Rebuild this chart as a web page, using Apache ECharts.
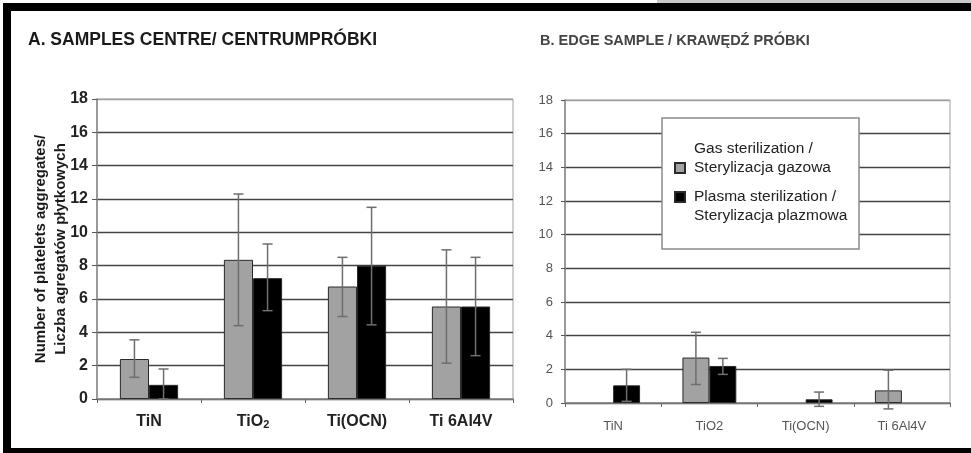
<!DOCTYPE html>
<html>
<head>
<meta charset="utf-8">
<script src="https://cdn.jsdelivr.net/npm/echarts@6/dist/echarts.min.js"></script>
<style>html,body{margin:0;padding:0;background:#fff;}#c{width:971px;height:453px;}</style>
</head>
<body>
<div id="c"></div>
<script>
// ---- data ----
var categories = ['TiN', 'TiO2', 'Ti(OCN)', 'Ti 6Al4V'];
var yTicks = [0, 2, 4, 6, 8, 10, 12, 14, 16, 18];
var seriesNames = ['Gas sterilization /\nSterylizacja gazowa', 'Plasma sterilization /\nSterylizacja plazmowa'];

// A. samples centre
var gasA = [2.4, 8.35, 6.75, 5.55];
var gasAHigh = [3.55, 12.3, 8.5, 8.95];
var gasALow = [1.3, 4.4, 4.95, 2.15];
var plasmaA = [0.85, 7.25, 8.0, 5.55];
var plasmaAHigh = [1.8, 9.3, 11.5, 8.5];
var plasmaALow = [0, 5.3, 4.45, 2.6];

// B. edge sample
var gasB = [null, 2.7, null, 0.75];
var gasBHigh = [null, 4.2, null, 1.95];
var gasBLow = [null, 1.1, null, -0.35];
var plasmaB = [1.05, 2.2, 0.22, null];
var plasmaBHigh = [2.0, 2.65, 0.65, null];
var plasmaBLow = [0.1, 1.7, -0.2, null];

function errData(low, high) {
  var out = [];
  for (var i = 0; i < low.length; i++) {
    if (low[i] !== null && high[i] !== null) out.push([i, low[i], high[i]]);
  }
  return out;
}

var GAP = 0.44;
function makeErr(side) {
  return function (params, api) {
    var cat = api.value(0);
    var lo = api.coord([cat, api.value(1)]);
    var hi = api.coord([cat, api.value(2)]);
    var band = api.size([1, 0])[0];
    var bw = band * (1 - GAP) / 2;
    var x = lo[0] + side * bw / 2;
    var cap = 5;
    var st = { stroke: '#6e6e6e', lineWidth: 1.5 };
    return {
      type: 'group',
      children: [
        { type: 'line', shape: { x1: x, y1: lo[1], x2: x, y2: hi[1] }, style: st },
        { type: 'line', shape: { x1: x - cap, y1: hi[1], x2: x + cap, y2: hi[1] }, style: st },
        { type: 'line', shape: { x1: x - cap, y1: lo[1], x2: x + cap, y2: lo[1] }, style: st }
      ]
    };
  };
}

var gridLineColors = yTicks.map(function (v, i) { return i === yTicks.length - 1 ? '#a0a0a0' : '#444'; });

var chart = echarts.init(document.getElementById('c'), null, { renderer: 'canvas' });

var gasStyle = { color: '#a2a2a2', borderColor: '#2a2a2a', borderWidth: 1 };
var plasmaStyle = { color: '#000000', borderColor: '#2a2a2a', borderWidth: 1 };

var option = {
  animation: false,
  backgroundColor: '#ffffff',
  title: [
    { text: 'A. SAMPLES CENTRE/ CENTRUMPRÓBKI', left: 28, top: 31, padding: 0,
      textStyle: { fontFamily: 'Liberation Sans, Arial', fontSize: 17.5, fontWeight: 'bold', color: '#1a1a1a' } },
    { text: 'B. EDGE SAMPLE / KRAWĘDŹ PRÓBKI', left: 540, top: 33, padding: 0,
      textStyle: { fontFamily: 'Liberation Sans, Arial', fontSize: 14.5, fontWeight: 'bold', color: '#444' } }
  ],
  legend: [
    { data: [seriesNames[0]], orient: 'vertical', left: 674, top: 139.5, padding: 0,
      itemWidth: 10, itemHeight: 10, icon: 'rect', z: 6,
      formatter: function (n) { return n + '\n '; },
      textStyle: { fontFamily: 'Liberation Sans, Arial', fontSize: 15.5, color: '#222', lineHeight: 19, padding: [0, 0, 0, 4] } },
    { data: [seriesNames[1]], orient: 'vertical', left: 674, top: 168.5, padding: 0,
      itemWidth: 10, itemHeight: 10, icon: 'rect', z: 6,
      formatter: function (n) { return ' \n' + n; },
      textStyle: { fontFamily: 'Liberation Sans, Arial', fontSize: 15.5, color: '#222', lineHeight: 19, padding: [0, 0, 0, 4] } }
  ],
  grid: [
    { left: 97, top: 99, width: 416, height: 300, show: true, borderColor: '#a0a0a0', borderWidth: 1 },
    { left: 565, top: 100, width: 385, height: 303, show: true, borderColor: '#a0a0a0', borderWidth: 1 }
  ],
  xAxis: [
    { type: 'category', gridIndex: 0, data: categories,
      axisLine: { lineStyle: { color: '#888', width: 1.5 } },
      axisTick: { show: true, length: 4, lineStyle: { color: '#666' } },
      axisLabel: { margin: 15, fontFamily: 'Liberation Sans, Arial', fontSize: 16, fontWeight: 'bold', color: '#222',
        formatter: function (v) { return v === 'TiO2' ? 'TiO{s|2}' : v; },
        rich: { s: { fontFamily: 'Liberation Sans, Arial', fontSize: 11, fontWeight: 'bold', color: '#222', verticalAlign: 'bottom', padding: [5, 0, 0, 0] } } } },
    { type: 'category', gridIndex: 1, data: categories,
      axisLine: { lineStyle: { color: '#888', width: 1.5 } },
      axisTick: { show: true, length: 4, lineStyle: { color: '#666' } },
      axisLabel: { margin: 17, fontFamily: 'Liberation Sans, Arial', fontSize: 13, color: '#555' } }
  ],
  yAxis: [
    { type: 'value', gridIndex: 0, min: 0, max: 18, interval: 2,
      name: 'Number of platelets aggregates/\nLiczba agregatów płytkowych',
      nameLocation: 'middle', nameRotate: 90, nameGap: 26, nameMoveOverlap: false,
      nameTextStyle: { fontFamily: 'Liberation Sans, Arial', fontSize: 15, fontWeight: 'bold', color: '#1a1a1a', lineHeight: 20 },
      axisLine: { show: true, lineStyle: { color: '#888', width: 1.5 } },
      axisTick: { show: true, length: 5, lineStyle: { color: '#555' } },
      axisLabel: { margin: 9, fontFamily: 'Liberation Sans, Arial', fontSize: 16, fontWeight: 'bold', color: '#222' },
      splitLine: { lineStyle: { color: gridLineColors, width: 1.3 } } },
    { type: 'value', gridIndex: 1, min: 0, max: 18, interval: 2,
      axisLine: { show: true, lineStyle: { color: '#888', width: 1.5 } },
      axisTick: { show: true, length: 4, lineStyle: { color: '#555' } },
      axisLabel: { margin: 12, fontFamily: 'Liberation Sans, Arial', fontSize: 13, color: '#555' },
      splitLine: { lineStyle: { color: gridLineColors, width: 1.3 } } }
  ],
  series: [
    { name: seriesNames[0], type: 'bar', xAxisIndex: 0, yAxisIndex: 0, data: gasA,
      barGap: '0%', barCategoryGap: '44%', itemStyle: gasStyle },
    { name: seriesNames[1], type: 'bar', xAxisIndex: 0, yAxisIndex: 0, data: plasmaA,
      barGap: '0%', barCategoryGap: '44%', itemStyle: plasmaStyle },
    { name: seriesNames[0], type: 'bar', xAxisIndex: 1, yAxisIndex: 1, data: gasB,
      barGap: '0%', barCategoryGap: '44%', itemStyle: gasStyle },
    { name: seriesNames[1], type: 'bar', xAxisIndex: 1, yAxisIndex: 1, data: plasmaB,
      barGap: '0%', barCategoryGap: '44%', itemStyle: plasmaStyle },
    { type: 'custom', xAxisIndex: 0, yAxisIndex: 0, renderItem: makeErr(-1), data: errData(gasALow, gasAHigh), z: 5, clip: false, silent: true },
    { type: 'custom', xAxisIndex: 0, yAxisIndex: 0, renderItem: makeErr(1), data: errData(plasmaALow, plasmaAHigh), z: 5, clip: false, silent: true },
    { type: 'custom', xAxisIndex: 1, yAxisIndex: 1, renderItem: makeErr(-1), data: errData(gasBLow, gasBHigh), z: 5, clip: false, silent: true },
    { type: 'custom', xAxisIndex: 1, yAxisIndex: 1, renderItem: makeErr(1), data: errData(plasmaBLow, plasmaBHigh), z: 5, clip: false, silent: true }
  ],
  graphic: [
    { type: 'rect', shape: { x: 657, y: 0, width: 314, height: 3 }, style: { fill: '#c8c8c8' }, silent: true },
    { type: 'rect', shape: { x: 3, y: 3, width: 968, height: 8 }, style: { fill: '#000' }, silent: true },
    { type: 'rect', shape: { x: 3, y: 3, width: 8, height: 450 }, style: { fill: '#000' }, silent: true },
    { type: 'rect', shape: { x: 3, y: 448, width: 968, height: 5 }, style: { fill: '#000' }, silent: true },
    { type: 'rect', shape: { x: 662, y: 118, width: 197, height: 131 }, z: 5,
      style: { fill: '#fff', stroke: '#8a8a8a', lineWidth: 1.5 }, silent: true }
  ]
};
chart.setOption(option);
</script>
</body>
</html>
